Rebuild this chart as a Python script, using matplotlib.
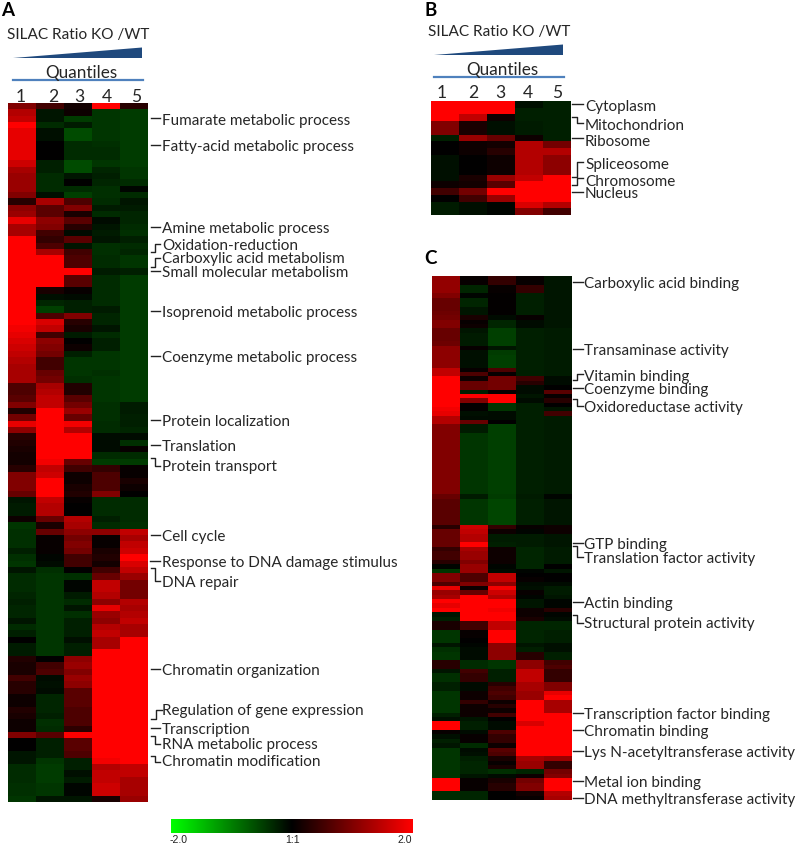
import numpy as np
import matplotlib
matplotlib.use("Agg")
import matplotlib.pyplot as plt
from matplotlib.colors import LinearSegmentedColormap, TwoSlopeNorm
from matplotlib.patches import Polygon

W, H = 796, 845
TEXT = "#262626"

quantiles = ["1", "2", "3", "4", "5"]

# rows top to bottom, columns are quantiles 1-5
panel_a = [
    [1.0, 0.5, 0.15, 2.0, 0.3], [1.4, -0.2, 0.1, -0.5, -0.55], [1.5, -0.2, -0.55, -0.5, -0.55],
    [2.0, -0.4, -0.25, -0.5, -0.55], [1.8, -0.15, -0.7, -0.5, -0.55], [1.8, -0.15, -0.7, -0.5, -0.55],
    [1.8, 0, -0.4, -0.45, -0.55], [1.8, 0, -0.4, -0.4, -0.55], [1.8, 0, -0.4, -0.4, -0.55],
    [1.6, -0.3, -0.7, -0.5, -0.55], [1.3, -0.3, -0.7, -0.35, -0.5], [1.2, -0.4, -0.2, -0.3, -0.5],
    [1.2, -0.4, 0, -0.35, -0.4], [1.2, -0.4, -0.4, -0.45, -0.05], [1.0, -0.15, -0.6, -0.45, -0.4],
    [0.3, 1.3, 0.6, -0.4, -0.2], [1.1, 0.7, 1.0, -0.25, -0.25], [1.2, 0.7, 0.2, -0.4, -0.35],
    [1.8, 1.1, 0.7, -0.1, -0.35], [1.3, 1.0, 0.3, -0.2, -0.4], [1.3, 0.5, -0.1, -0.25, -0.45],
    [2.0, 0.4, 0.7, -0.2, -0.3], [2.0, 0.6, -0.2, -0.45, -0.4], [2.0, 1.3, 0.5, -0.45, -0.35],
    [2.0, 2.0, 0.6, -0.4, -0.5], [2.0, 2.0, 0.6, -0.4, -0.5], [2.0, 2.0, 2.0, -0.25, -0.3],
    [2.0, 2.0, 0.7, -0.4, -0.55], [2.0, 2.0, 0.7, -0.4, -0.55], [2.0, 0.2, 0.05, -0.4, -0.55],
    [2.0, -0.15, -0.1, -0.4, -0.55], [2.0, -0.35, -0.3, -0.4, -0.55], [2.0, -0.6, -0.3, -0.25, -0.55],
    [2.0, 0.6, 1.0, -0.35, -0.55], [2.0, 1.7, 0.3, -0.35, -0.55], [1.9, 1.5, 0.2, -0.2, -0.55],
    [1.8, 0.5, -0.25, -0.4, -0.55], [1.7, 1.1, 0, -0.3, -0.55], [1.6, 1.0, 0.1, -0.3, -0.55],
    [1.5, 0.9, -0.3, -0.5, -0.55], [1.4, 0.5, -0.5, -0.5, -0.55], [1.3, 0.5, -0.5, -0.5, -0.55],
    [1.3, 0.8, -0.5, -0.45, -0.55], [1.3, 0.9, -0.45, -0.5, -0.55], [0.6, 1.3, 0.25, -0.5, -0.55],
    [0.6, 1.4, 0.25, -0.5, -0.55], [0.7, 1.5, 0.7, -0.5, -0.55], [1.0, 1.5, 0.9, -0.45, -0.25],
    [0.25, 2.0, 1.2, -0.45, -0.25], [0.9, 2.0, 0.8, -0.45, -0.3], [1.8, 2.0, 1.9, -0.4, -0.3],
    [1.1, 2.0, 1.4, -0.4, -0.35], [0.3, 2.0, 2.0, -0.1, -0.1], [0.25, 2.0, 2.0, -0.1, -0.45],
    [0.2, 2.0, 2.0, -0.1, 0.05], [0.15, 2.0, 2.0, -0.4, -0.4], [0.15, 1.9, 0.8, -0.55, -0.55],
    [0.3, 1.5, 0.5, 0.4, 0.05], [1.0, 1.6, 0.1, 0.6, 0.05], [1.0, 2.0, 0.1, 0.6, 0.2],
    [1.0, 2.0, 0.2, 0.6, 0.1], [0.8, 2.0, 0.25, 1.0, 0], [-0.2, 1.5, 0.05, -0.4, -0.4],
    [-0.25, 1.4, 0, -0.4, -0.4], [-0.25, 1.4, 0, -0.4, -0.4], [0.1, 0.8, 1.4, -0.3, -0.4],
    [-0.5, 0.2, 1.3, -0.4, -0.45], [-0.45, 0.8, 1.1, 1.1, 1.5], [-0.45, 0.05, 0.9, 0.05, 1.3],
    [-0.45, 0.05, 1.0, 0.05, 1.5], [-0.3, 0.05, 0.9, 0.2, 1.6], [-0.45, -0.05, 0.5, 0.25, 2.0],
    [-0.5, -0.1, 0.5, 0.15, 1.7], [-0.2, -0.45, 0, 0.5, 1.5], [-0.4, -0.5, -0.45, 0.8, 1.2],
    [-0.4, -0.5, -0.05, 1.5, 0.9], [-0.4, -0.5, -0.05, 1.5, 0.9], [-0.35, -0.5, -0.25, 1.4, 0.9],
    [-0.3, -0.5, -0.4, 1.1, 1.4], [-0.35, -0.5, -0.2, 1.8, 1.3], [-0.35, -0.5, -0.45, 1.2, 1.4],
    [-0.2, -0.5, -0.3, 1.1, 1.5], [-0.4, -0.5, -0.3, 1.4, 1.3], [-0.3, -0.5, -0.3, 1.5, 1.3],
    [0, -0.5, -0.15, 1.3, 2.0], [-0.25, -0.5, -0.3, 1.3, 2.0], [-0.25, -0.5, -0.3, 2.0, 2.0],
    [0.25, 0, 1.1, 2.0, 2.0], [0.2, 0.5, 1.2, 2.0, 2.0], [0.2, 0.6, 1.0, 2.0, 2.0],
    [0.5, -0.1, 1.2, 2.0, 2.0], [0.3, -0.15, 1.1, 2.0, 2.0], [0.3, -0.1, 0.7, 2.0, 2.0],
    [0.1, -0.35, 0.7, 2.0, 2.0], [0.1, -0.35, 0.7, 2.0, 2.0], [0.25, -0.35, 0.6, 2.0, 2.0],
    [0.2, -0.3, 0.6, 2.0, 2.0], [0.1, -0.45, 0.6, 2.0, 2.0], [0.1, -0.4, 0.35, 2.0, 2.0],
    [1.0, 0.7, 2.0, 2.0, 2.0], [0, -0.3, 0.7, 2.0, 2.0], [0, -0.3, 0.7, 2.0, 2.0],
    [-0.2, -0.3, 0.6, 2.0, 2.0], [-0.2, -0.5, -0.3, 1.9, 2.0], [-0.4, -0.55, -0.3, 1.4, 1.5],
    [-0.4, -0.55, -0.15, 1.5, 1.5], [-0.4, -0.55, -0.25, 1.5, 1.3], [-0.45, -0.5, -0.05, 1.6, 1.3],
    [-0.45, -0.5, -0.05, 1.6, 1.3], [-0.5, -0.2, -0.2, 0.2, 1.2],
]

panel_b = [
    [2.0, 2.0, 2.0, -0.15, -0.3], [2.0, 2.0, 2.0, -0.3, -0.3], [2.0, 1.5, 0.1, -0.3, -0.3],
    [1.0, 0.2, -0.15, -0.25, -0.3], [1.0, 0.2, -0.15, -0.25, -0.3], [-0.3, 1.2, 0.8, 0.1, -0.3],
    [0, 0.1, 0.15, 1.4, 0.9], [0, 0.1, 0.3, 1.4, 1.4], [-0.15, 0, 0.1, 1.4, 1.1],
    [-0.15, 0, 0.1, 1.4, 1.1], [-0.15, 0, 0.1, 1.4, 1.1], [-0.15, 0.2, 1.2, 1.5, 2.0],
    [0.1, 0.15, 0.7, 2.0, 2.0], [0.5, 0.9, 2.0, 2.0, 2.0], [0, 0.5, 1.2, 2.0, 2.0],
    [-0.25, -0.15, -0.05, 1.7, 1.4], [-0.25, -0.15, -0.05, 1.0, 0.5],
]

panel_c = [
    [1.15, 0.05, 0.4, 0.05, -0.2], [1.15, 0.05, 0.4, 0.05, -0.2], [1.15, -0.35, 0.05, 0.4, -0.2],
    [1.15, -0.35, 0.05, 0.4, -0.2], [1.0, -0.05, 0.02, -0.3, -0.2], [0.8, -0.35, 0.02, -0.3, -0.2],
    [0.8, -0.35, 0.02, -0.3, -0.2], [0.8, -0.2, 0.02, -0.3, -0.2], [0.85, -0.2, 0.02, -0.3, -0.2],
    [0.9, 0.2, -0.1, 0.05, -0.2], [1.0, 0.05, -0.35, -0.1, -0.2], [1.0, 0.1, -0.35, -0.1, -0.2],
    [0.8, -0.2, -0.6, -0.3, -0.25], [0.8, -0.25, -0.6, -0.3, -0.25], [0.8, -0.25, -0.6, -0.3, -0.25],
    [0.85, -0.25, -0.6, -0.3, -0.25], [1.1, 0.05, -0.2, -0.3, -0.25], [1.1, -0.15, -0.55, -0.3, -0.25],
    [1.1, -0.15, -0.6, -0.3, -0.25], [1.1, -0.15, -0.6, -0.3, -0.25], [1.1, -0.15, -0.6, -0.3, -0.25],
    [1.5, 0.05, 0.6, -0.3, -0.25], [1.5, 0.6, 0.05, -0.3, -0.25], [2.0, 0.1, 0.9, 0.5, -0.1],
    [2.0, 0.8, 0.9, 0.3, -0.1], [2.0, 0.8, 0.9, -0.1, 0], [2.0, -0.3, 0.05, -0.1, 0.7],
    [2.0, 2.0, 2.0, -0.2, 0.05], [2.0, 1.0, 2.0, -0.1, 0.3], [2.0, 0.03, -0.5, -0.3, 0],
    [1.9, 0.03, -0.5, -0.3, -0.2], [1.8, -0.15, -0.1, -0.3, 0.5], [1.4, -0.1, -0.1, -0.3, -0.25],
    [1.4, 0.8, 0, -0.3, -0.25], [1.0, -0.25, -0.6, -0.3, -0.25], [1.0, -0.25, -0.6, -0.3, -0.25],
    [1.0, -0.5, -0.6, -0.3, -0.25], [1.0, -0.5, -0.6, -0.3, -0.25], [1.0, -0.5, -0.6, -0.3, -0.25],
    [1.0, -0.5, -0.6, -0.3, -0.25], [1.0, -0.5, -0.6, -0.3, -0.25], [1.0, -0.5, -0.6, -0.3, -0.25],
    [1.0, -0.5, -0.6, -0.3, -0.25], [1.0, -0.5, -0.6, -0.3, -0.25], [1.0, -0.5, -0.6, -0.3, -0.25],
    [1.0, -0.5, -0.6, -0.3, -0.25], [1.0, -0.5, -0.6, -0.3, -0.25], [1.0, -0.5, -0.6, -0.3, -0.25],
    [1.0, -0.5, -0.6, -0.3, -0.25], [1.0, -0.5, -0.6, -0.3, -0.25], [0.8, -0.25, -0.55, -0.25, -0.05],
    [0.7, -0.5, -0.65, -0.3, -0.2], [0.7, -0.5, -0.65, -0.3, -0.2], [0.7, -0.5, -0.65, -0.3, -0.2],
    [0.7, -0.5, -0.65, -0.3, -0.2], [0.7, -0.5, -0.65, -0.3, -0.2], [0.7, -0.5, -0.65, -0.3, -0.2],
    [0.3, 1.6, 0.4, 0.05, 0.1], [0.8, 1.5, 0.1, -0.05, 0.1], [0.8, 1.4, -0.25, -0.25, -0.2],
    [0.8, 1.4, -0.25, -0.25, -0.2], [0.8, 2.0, -0.3, -0.25, -0.2], [0.4, 1.3, 0.1, -0.35, -0.25],
    [0.5, 1.2, 0.1, -0.35, -0.25], [0.5, 1.2, 0.1, -0.35, -0.25], [0.3, 1.0, 0.1, -0.35, -0.25],
    [-0.05, 1.2, -0.05, -0.35, 0], [-0.5, 1.2, -0.1, -0.05, -0.2], [1.0, 0.6, 1.5, 0, 0],
    [1.0, 0.6, 1.5, 0.05, 0], [0.6, 1.0, 1.1, -0.1, -0.1], [1.8, 0.1, 1.9, -0.15, -0.25],
    [1.2, 0.8, 1.6, 0.05, -0.25], [1.3, 2.0, 1.4, -0.05, -0.2], [2.0, 2.0, 2.0, -0.2, -0.05],
    [1.8, 2.0, 2.0, -0.2, -0.05], [2.0, 2.0, 1.9, 0.1, 0.3], [-0.2, 2.0, 2.0, 0.1, -0.05],
    [-0.3, 2.0, 2.0, 0.2, -0.1], [0.2, 0.5, 1.5, -0.35, -0.35], [0.2, 0.5, 1.5, -0.35, -0.35],
    [-0.5, 0.05, 2.0, -0.35, -0.3], [-0.5, 0.05, 2.0, -0.35, -0.3], [-0.5, 0, 2.0, -0.35, -0.3],
    [-0.2, -0.05, 1.1, -0.2, -0.15], [-0.45, -0.1, 1.1, -0.3, -0.15], [-0.5, -0.1, 1.1, 0.3, -0.3],
    [-0.5, -0.1, 1.1, 0.3, -0.3], [0.3, -0.4, -0.5, 1.1, 0.5], [0.3, -0.4, -0.5, 1.1, 0.6],
    [-0.2, 0.5, -0.3, 1.5, 0.4], [-0.45, 0.4, -0.3, 1.5, 0.4], [-0.45, 0.4, -0.3, 1.5, 0.4],
    [-0.3, -0.1, 0.3, 1.3, 1.0], [-0.3, -0.1, 0.5, 1.3, 1.0], [-0.5, 0.1, 0.6, 1.2, 1.8],
    [-0.5, 0.1, 0.5, 1.2, 2.0], [-0.5, 0.4, 0.1, 2.0, 1.3], [-0.5, 0.1, 0.3, 2.0, 1.3],
    [-0.5, 0.1, 0.1, 2.0, 1.3], [-0.3, 0.1, 0.5, 2.0, 2.0], [-0.15, -0.2, 0, 2.0, 2.0],
    [2.0, -0.3, -0.1, 1.7, 2.0], [2.0, -0.3, -0.1, 2.0, 2.0], [0.05, -0.1, 0.6, 2.0, 2.0],
    [-0.15, 0.05, 0.4, 2.0, 2.0], [-0.3, 0.05, 0.4, 2.0, 2.0], [-0.2, -0.4, 0.1, 2.0, 2.0],
    [-0.5, -0.1, 0.7, 2.0, 2.0], [-0.5, -0.15, 0.6, 2.0, 2.0], [-0.5, -0.3, 0.2, 1.3, 1.2],
    [-0.5, -0.35, 0.05, 1.2, 0.4], [-0.5, -0.35, 0.2, 1.2, 0.4], [-0.5, -0.35, -0.45, -0.35, 0.9],
    [-0.5, -0.2, -0.1, 0.1, 1.0], [2.0, 0.05, 0.2, 0.9, 2.0], [2.0, 0.05, 0.3, 1.0, 2.0],
    [2.0, 0.05, 0.3, 1.0, 2.0], [-0.4, -0.35, 0, 0.15, 1.4], [-0.4, -0.35, 0, 0.05, 1.3],
]

# label, text y, connector points (x, y)
labels_a = [
    ("Fumarate metabolic process", 119, [(151, 119), (160, 119)]),
    ("Fatty-acid metabolic process", 146, [(151, 146), (160, 146)]),
    ("Amine metabolic process", 228, [(151, 228), (160, 228)]),
    ("Oxidation-reduction", 244, [(151, 253), (155, 253), (155, 245), (160, 245)]),
    ("Carboxylic acid metabolism", 258, [(151, 268), (155, 268), (155, 259), (160, 259)]),
    ("Small molecular metabolism", 272, [(151, 272), (160, 272)]),
    ("Isoprenoid metabolic process", 312, [(151, 312), (160, 312)]),
    ("Coenzyme metabolic process", 357, [(151, 357), (160, 357)]),
    ("Protein localization", 421, [(151, 421), (160, 421)]),
    ("Translation", 446, [(151, 446), (160, 446)]),
    ("Protein transport", 466, [(151, 459), (155, 459), (155, 467), (160, 467)]),
    ("Cell cycle", 536, [(151, 536), (160, 536)]),
    ("Response to DNA damage stimulus", 562, [(150, 562), (160, 562)]),
    ("DNA repair", 582, [(151, 569), (155, 569), (155, 582), (160, 582)]),
    ("Chromatin organization", 670, [(151, 670), (160, 670)]),
    ("Regulation of gene expression", 710, [(151, 720), (156, 720), (156, 711), (162, 711)]),
    ("Transcription", 729, [(151, 729), (160, 729)]),
    ("RNA metabolic process", 744, [(151, 737), (155, 737), (155, 745), (160, 745)]),
    ("Chromatin modification", 761, [(151, 757), (155, 757), (155, 763), (160, 763)]),
]

labels_b = [
    ("Cytoplasm", 105, [(572, 105), (583, 105)]),
    ("Mitochondrion", 124, [(572, 118), (577, 118), (577, 124), (583, 124)]),
    ("Ribosome", 140, [(572, 139), (583, 139)]),
    ("Spliceosome", 163, [(572, 178), (577, 178), (577, 163), (583, 163)]),
    ("Chromosome", 180, [(572, 186), (577, 186), (577, 179), (583, 179)]),
    ("Nucleus", 193, [(572, 193), (583, 193)]),
]

labels_c = [
    ("Carboxylic acid binding", 283, [(573, 283), (583, 283)]),
    ("Transaminase activity", 350, [(573, 350), (583, 350)]),
    ("Vitamin binding", 376, [(573, 381), (577, 381), (577, 375), (583, 375)]),
    ("Coenzyme binding", 389, [(573, 389), (583, 389)]),
    ("Oxidoreductase activity", 407, [(573, 400), (577, 400), (577, 407), (583, 407)]),
    ("GTP binding", 544, [(573, 544), (583, 544)]),
    ("Translation factor activity", 558, [(573, 547), (577, 547), (577, 558), (583, 558)]),
    ("Actin binding", 603, [(573, 603), (583, 603)]),
    ("Structural protein activity", 623, [(573, 616), (577, 616), (577, 624), (583, 624)]),
    ("Transcription factor binding", 714, [(573, 714), (583, 714)]),
    ("Chromatin binding", 731, [(573, 731), (583, 731)]),
    ("Lys N-acetyltransferase activity", 752, [(573, 752), (583, 752)]),
    ("Metal ion binding", 782, [(573, 782), (583, 782)]),
    ("DNA methyltransferase activity", 799, [(573, 799), (583, 799)]),
]

plt.rcParams["font.family"] = ["Lato", "DejaVu Sans"]
cmap = LinearSegmentedColormap.from_list("gbr", ["#00ff00", "#000000", "#ff0000"])


def px_axes(fig, x0, y0, x1, y1):
    # box given in image pixels, y from the top
    return fig.add_axes([x0 / W, 1 - y1 / H, (x1 - x0) / W, (y1 - y0) / H])


def heat(fig, data, box):
    ax = px_axes(fig, *box)
    norm = TwoSlopeNorm(vmin=-2.4, vcenter=0, vmax=2)
    ax.imshow(np.array(data), cmap=cmap, norm=norm, aspect="auto", interpolation="nearest")
    ax.axis("off")


def header(bg, x_left, y_shift, num_x):
    bg.text(x_left, 35 + y_shift, "SILAC Ratio KO /WT", fontsize=11.1, color=TEXT, va="center")
    wedge = [(x_left + 6, 59 + y_shift), (x_left + 135, 48.5 + y_shift), (x_left + 135, 59 + y_shift)]
    bg.add_patch(Polygon(wedge, closed=True, color="#1f497d", lw=0))
    bg.text(x_left + 74, 73 + y_shift, "Quantiles", fontsize=12.3, color=TEXT, ha="center", va="center")
    bg.plot([x_left + 6, x_left + 136], [81 + y_shift] * 2, color="#4f81bd", lw=1.6)
    for q, x in zip(quantiles, num_x):
        bg.text(x, 96.5 + y_shift, q, fontsize=12.6, color=TEXT, ha="center", va="center")


def add_labels(bg, rows, x):
    for name, y, pts in rows:
        bg.text(x, y + 1.5, name, fontsize=11, color=TEXT, va="center")
        bg.plot([p[0] for p in pts], [p[1] for p in pts], color="#222222", lw=1.0)


fig = plt.figure(figsize=(W / 100, H / 100), dpi=100)
bg = fig.add_axes([0, 0, 1, 1])
bg.set_xlim(0, W)
bg.set_ylim(H, 0)
bg.axis("off")

heat(fig, panel_a, (8, 104, 148, 803))
heat(fig, panel_b, (431, 102, 571, 216))
heat(fig, panel_c, (432, 277, 572, 801))

bg.text(1, 10, "A", fontsize=13.5, fontweight="bold", color="black", va="center")
bg.text(424, 10, "B", fontsize=13.5, fontweight="bold", color="black", va="center")
bg.text(424, 259, "C", fontsize=13.5, fontweight="bold", color="black", va="center")

header(bg, 7, 0, [21, 53, 79, 107, 136])
header(bg, 428, -3, [442, 473, 500, 528, 557])

add_labels(bg, labels_a, 162)
add_labels(bg, labels_b, 585)
add_labels(bg, labels_c, 584)

# colour key
cax = px_axes(fig, 170.5, 819.5, 412, 834.5)
cax.imshow(np.linspace(-2, 2, 256)[None, :], cmap=cmap, vmin=-2, vmax=2, aspect="auto")
cax.axis("off")
for txt, x, ha in [("-2.0", 170, "left"), ("1:1", 293, "center"), ("2.0", 412, "right")]:
    bg.text(x, 840.5, txt, fontsize=7.6, family=["Liberation Sans"], color="#222222", ha=ha, va="center")

fig.savefig("out.png", dpi=100)
